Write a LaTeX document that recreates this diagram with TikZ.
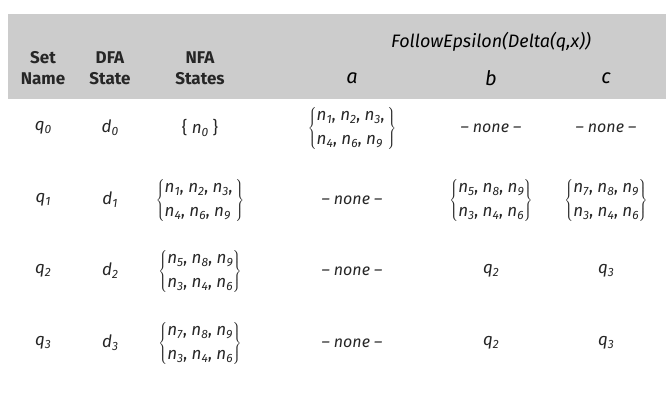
\documentclass[tikz,border=0pt]{standalone}
\usepackage{fontspec}
\setmainfont{Fira Sans}
\usetikzlibrary{positioning}
\newcommand{\sub}[2]{\textit{#1}\raisebox{-0.35ex}{\fontsize{12}{12}\selectfont\textit{#2}}}
\newcommand{\nset}[7]{$\left\{\begin{array}{@{}l@{}}
  \mbox{\sub{n}{#1}, \sub{n}{#2}, \sub{n}{#3}#7}\\[3pt]
  \mbox{\sub{n}{#4}, \sub{n}{#5}, \sub{n}{#6}}\end{array}\right\}$}
\tikzset{
  x=1pt, y=-1pt,
  head/.style={font=\fontsize{17}{21}\selectfont\bfseries\color{black!85}, align=center},
  cell/.style={font=\fontsize{17}{21}\selectfont\color{black!85}, align=center, inner sep=0pt},
  none/.style={cell, font=\fontsize{16}{21}\selectfont\itshape\color{black!85}}
}
\begin{document}
\begin{tikzpicture}
\useasboundingbox (0,0) rectangle (666,407);
\fill[black!20] (8,14) rectangle (666,99);
% header
\node[cell,font=\fontsize{18}{21}\selectfont\itshape] (fe) at (491,42) {FollowEpsilon(Delta(q,x))};
\node[head] (hset) at (43,68) {Set\\Name};
\node[head] (hdfa) at (110,68) {DFA\\State};
\node[head] (hnfa) at (200,68) {NFA\\States};
\node[none,font=\fontsize{20}{21}\selectfont\itshape] (ha) at (352,78) {a};
\node[none,font=\fontsize{20}{21}\selectfont\itshape] (hb) at (491,78) {b};
\node[none,font=\fontsize{20}{21}\selectfont\itshape] (hc) at (606,78) {c};
% row q0
\node[cell] (q0) at (43,128) {\sub{q}{0}};
\node[cell] (d0) at (110,128) {\sub{d}{0}};
\node[cell] (n0) at (200,128) {\{ \sub{n}{0} \}};
\node[cell] (q0a) at (352,128) {\nset123469{,\,}};
\node[none] (q0b) at (491,128) {– none –};
\node[none] (q0c) at (606,128) {– none –};
% row q1
\node[cell] (q1) at (43,200) {\sub{q}{1}};
\node[cell] (d1) at (110,200) {\sub{d}{1}};
\node[cell] (n1) at (200,200) {\nset123469{,\,}};
\node[none] (q1a) at (352,200) {– none –};
\node[cell] (q1b) at (491,200) {\nset589346{}};
\node[cell] (q1c) at (606,200) {\nset789346{}};
% row q2
\node[cell] (q2) at (43,271) {\sub{q}{2}};
\node[cell] (d2) at (110,271) {\sub{d}{2}};
\node[cell] (n2) at (200,271) {\nset589346{}};
\node[none] (q2a) at (352,271) {– none –};
\node[cell] (q2b) at (491,271) {\sub{q}{2}};
\node[cell] (q2c) at (606,271) {\sub{q}{3}};
% row q3
\node[cell] (q3) at (43,343) {\sub{q}{3}};
\node[cell] (d3) at (110,343) {\sub{d}{3}};
\node[cell] (n3) at (200,343) {\nset789346{}};
\node[none] (q3a) at (352,343) {– none –};
\node[cell] (q3b) at (491,343) {\sub{q}{2}};
\node[cell] (q3c) at (606,343) {\sub{q}{3}};
\end{tikzpicture}
\end{document}
